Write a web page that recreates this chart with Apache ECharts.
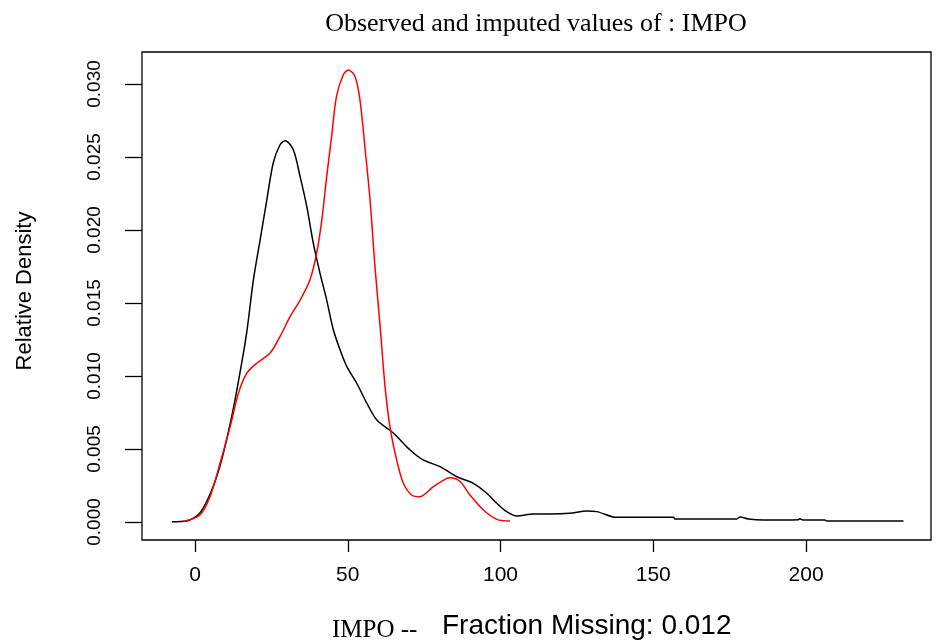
<!DOCTYPE html>
<html>
<head>
<meta charset="utf-8">
<script src="https://cdn.jsdelivr.net/npm/echarts@6/dist/echarts.min.js"></script>
<style>
html,body{margin:0;padding:0;background:#fff;}
#c{width:938px;height:642px;}
</style>
</head>
<body>
<div id="c"></div>
<script>
// Observed density (black)
const obsX = [-7.6,-2.7,1.6,5.5,8.7,12.0,14.7,16.9,19.1,21.3,23.5,25.6,27.8,29.5,32.2,34.4,36.6,38.7,40.9,43.1,45.3,47.5,49.7,52.9,56.2,59.5,64.9,70.4,74.7,80.2,85.7,91.1,95.5,98.8,102.0,105.3,110.7,116.2,122.7,128.2,131.5,138.0,148.9,156.6,157.1,177.3,178.4,181.1,186.0,197.5,198.0,199.0,206.2,206.8,231.9];
const obsY = [0.00002,0.00007,0.00062,0.00219,0.00425,0.00721,0.01021,0.01294,0.01657,0.01931,0.02205,0.02459,0.02582,0.02612,0.02548,0.02365,0.0216,0.01911,0.01705,0.0152,0.01315,0.01178,0.01064,0.00952,0.00815,0.00699,0.0061,0.00493,0.00425,0.00379,0.0031,0.00265,0.00197,0.00128,0.00071,0.00041,0.00055,0.00055,0.0006,0.00075,0.00071,0.00032,0.00032,0.00032,0.00021,0.00021,0.00034,0.00021,0.00014,0.00016,0.00023,0.00014,0.00014,0.00007,0.00007];
// Imputed density (red)
const impX = [-3.9,1.6,4.9,8.2,11.5,14.2,16.9,20.2,24.5,27.8,31.1,34.4,37.6,39.8,41.5,43.1,44.7,46.3,48.5,50.2,52.4,54.0,55.6,57.3,58.9,60.6,62.2,63.8,66.0,68.2,70.9,73.6,78.0,82.4,83.5,86.8,90.0,94.4,98.8,103.1];
const impY = [0.00004,0.00048,0.00173,0.00402,0.00653,0.00881,0.01018,0.01087,0.01155,0.01269,0.01406,0.0152,0.01657,0.0184,0.02068,0.02365,0.02639,0.02913,0.03061,0.03096,0.0305,0.0289,0.0257,0.02205,0.01749,0.01338,0.00927,0.00653,0.00425,0.00265,0.00185,0.00173,0.00242,0.00299,0.00303,0.00276,0.00185,0.00082,0.00018,0.00007];
const xTicks = [0,50,100,150,200];
const yTicks = [0,0.005,0.010,0.015,0.020,0.025,0.030];
const titleText = 'Observed and imputed values of : IMPO';
const xTitleA = 'IMPO --';
const xTitleB = 'Fraction Missing: 0.012';
const yTitle = 'Relative Density';

const zip = (xs, ys) => xs.map((x, i) => [x, ys[i]]);
const chart = echarts.init(document.getElementById('c'));
chart.setOption({
  animation: false,
  backgroundColor: '#fff',
  title: {
    text: titleText, left: 531, top: 6, textAlign: 'center',
    textStyle: {fontFamily: 'Liberation Serif', fontWeight: 'normal', fontSize: 26, color: '#000'}
  },
  grid: {left: 142, right: 7, top: 52, bottom: 102, show: true, borderColor: '#000', borderWidth: 1.3},
  xAxis: {
    type: 'value', min: -17.35, max: 240.9,
    axisLine: {show: false, onZero: false},
    splitLine: {show: false},
    axisTick: {show: true, length: 12, customValues: xTicks, lineStyle: {color: '#000', width: 1.3}},
    axisLabel: {customValues: xTicks, fontFamily: 'Liberation Sans', fontSize: 21, color: '#000', margin: 25}
  },
  yAxis: {
    type: 'value', min: -0.001233, max: 0.03219,
    axisLine: {show: false, onZero: false},
    splitLine: {show: false},
    axisTick: {show: true, length: 17, customValues: yTicks, lineStyle: {color: '#000', width: 1.3}},
    axisLabel: {customValues: yTicks, rotate: 90, fontFamily: 'Liberation Sans', fontSize: 19, color: '#000', margin: 38,
      formatter: v => v.toFixed(3)}
  },
  graphic: [
    {type: 'text', x: 25, y: 291, rotation: Math.PI / 2,
      style: {text: yTitle, fontFamily: 'Liberation Sans', fontSize: 22, fill: '#000', align: 'center', verticalAlign: 'middle'}},
    {type: 'text', x: 332, y: 630,
      style: {text: xTitleA, fontFamily: 'Liberation Serif', fontSize: 25, fill: '#000', align: 'left', verticalAlign: 'middle'}},
    {type: 'text', x: 442, y: 626,
      style: {text: xTitleB, fontFamily: 'Liberation Sans', fontSize: 28, fill: '#000', align: 'left', verticalAlign: 'middle'}}
  ],
  series: [
    {type: 'line', data: zip(obsX, obsY), showSymbol: false, smooth: 0.3, lineStyle: {color: '#000', width: 1.5}, z: 2},
    {type: 'line', data: zip(impX, impY), showSymbol: false, smooth: 0.3, lineStyle: {color: '#ff0000', width: 1.5}, z: 3}
  ]
});
</script>
</body>
</html>
